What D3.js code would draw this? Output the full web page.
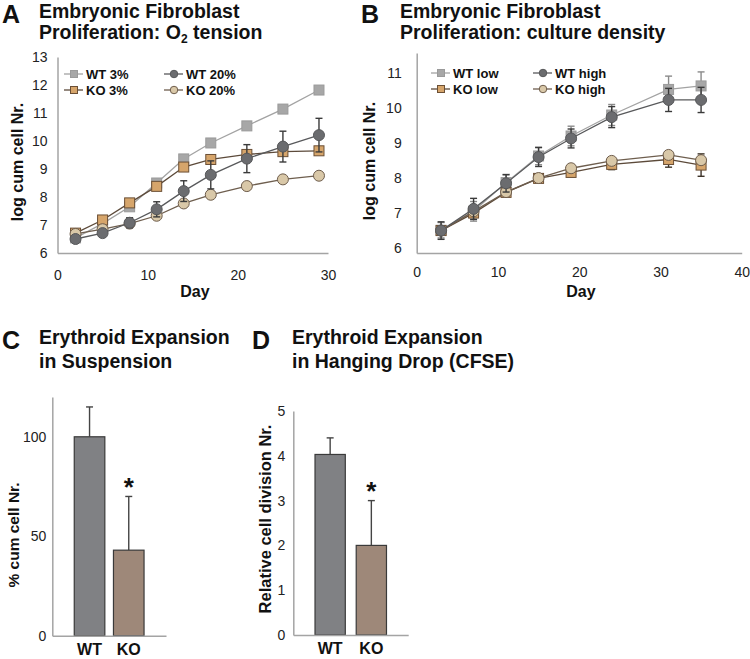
<!DOCTYPE html>
<html><head><meta charset="utf-8">
<script src="https://cdn.jsdelivr.net/npm/d3@7"></script>
<style>body{margin:0;background:#fff} text{font-family:"Liberation Sans",Arial,Helvetica,sans-serif}</style>
</head><body><svg id="c" width="750" height="659"></svg>
<script>
// ---------- DATA ----------
// Panel A: O2 tension
const daysA = [2, 5, 8, 11, 14, 17, 21, 25, 29];
const wt3   = [6.54, 7.05, 7.65, 8.50, 9.36, 9.93, 10.54, 11.14, 11.82];
const wt3Err = [0.05, 0.05, 0.05, 0.05, 0.05, 0.08, 0.05, 0.05, 0.05];
const ko3   = [6.71, 7.18, 7.79, 8.38, 9.07, 9.34, 9.52, 9.62, 9.65];
const ko3Err = [0.05, 0.08, 0.05, 0.05, 0.08, 0.08, 0.1, 0.1, 0.12];
const wt20  = [6.50, 6.71, 7.08, 7.56, 8.21, 8.79, 9.37, 9.80, 10.21];
const wt20Err = [0.05, 0.1, 0.18, 0.27, 0.37, 0.5, 0.5, 0.55, 0.6];
const ko20  = [6.68, 6.85, 7.05, 7.33, 7.77, 8.08, 8.39, 8.63, 8.76];
const ko20Err = [0.05, 0.05, 0.05, 0.08, 0.05, 0.05, 0.05, 0.05, 0.07];
const xTicksA = [0, 10, 20, 30];
const yTicksA = [6, 7, 8, 9, 10, 11, 12, 13];

// Panel B: culture density
const daysB = [3, 7, 11, 15, 19, 24, 31, 35];
const wtLow  = [6.51, 7.05, 7.87, 8.63, 9.20, 9.80, 10.53, 10.63];
const wtLowErr = [0.22, 0.28, 0.22, 0.25, 0.28, 0.3, 0.38, 0.4];
const koLow  = [6.50, 7.00, 7.59, 7.99, 8.16, 8.39, 8.53, 8.37];
const koLowErr = [0.12, 0.12, 0.06, 0.06, 0.1, 0.15, 0.22, 0.32];
const wtHigh = [6.50, 7.12, 7.85, 8.60, 9.13, 9.74, 10.23, 10.23];
const wtHighErr = [0.25, 0.3, 0.25, 0.27, 0.27, 0.3, 0.33, 0.36];
const koHigh = [6.50, 7.05, 7.60, 8.00, 8.28, 8.49, 8.66, 8.51];
const koHighErr = [0.08, 0.08, 0.05, 0.05, 0.08, 0.08, 0.1, 0.1];
const xTicksB = [0, 10, 20, 30, 40];
const yTicksB = [6, 7, 8, 9, 10, 11];

// Panels C & D
const barCats = ["WT", "KO"];
const suspVals = [100, 43];
const suspErr  = [15, 27];
const yTicksC = [0, 50, 100];
const hangVals = [4.03, 2.0];
const hangErr  = [0.37, 1.0];
const yTicksD = [0, 1, 2, 3, 4, 5];

// ---------- STYLES ----------
const stLight = {fill:"#a7a7a7", stroke:"#9a9a9a", line:"#a3a3a3", err:"#8a8a8a", shape:"square"};
const stTan   = {fill:"#d6a56b", stroke:"#6b4f35", line:"#5c4a3a", err:"#3d3328", shape:"square"};
const stDark  = {fill:"#6b6c6f", stroke:"#57585a", line:"#58595b", err:"#3a3a3a", shape:"circle"};
const stBeige = {fill:"#d9c8a8", stroke:"#6e5d4c", line:"#6e5e4e", err:"#3d3328", shape:"circle"};

const svg = d3.select("#c");
const FONT = '"Liberation Sans",Arial,Helvetica,sans-serif';
const AXC = "#a4a4a4";

function styleAxis(sel, size) {
  sel.select(".domain").attr("stroke", AXC).attr("stroke-width", 1.5);
  sel.selectAll("text").attr("font-size", size).attr("fill", "#222").attr("font-family", FONT);
}

function marker(g, shape, cx, cy, sz, st) {
  if (shape === "square") {
    g.append("rect").attr("x", cx - sz/2).attr("y", cy - sz/2).attr("width", sz).attr("height", sz)
      .attr("fill", st.fill).attr("stroke", st.stroke).attr("stroke-width", 1);
  } else {
    g.append("circle").attr("cx", cx).attr("cy", cy).attr("r", sz/2)
      .attr("fill", st.fill).attr("stroke", st.stroke).attr("stroke-width", 1);
  }
}

function linePanel(o) {
  const x = d3.scaleLinear().domain(o.xDomain).range(o.xRange);
  const y = d3.scaleLinear().domain(o.yDomain).range(o.yRange);
  const g = svg.append("g");
  g.append("g").attr("transform", `translate(0,${o.yRange[0]})`)
    .call(d3.axisBottom(x).tickValues(o.xTicks).tickSize(0).tickSizeOuter(0).tickPadding(o.xPad).tickFormat(d3.format("d")))
    .call(s => styleAxis(s, 14));
  g.append("g").attr("transform", `translate(${o.xRange[0]},0)`)
    .call(d3.axisLeft(y).tickValues(o.yTicks).tickSize(0).tickSizeOuter(0).tickPadding(o.yPad).tickFormat(d3.format("d")))
    .call(s => styleAxis(s, 14));
  const line = d3.line().x(d => x(d[0])).y(d => y(d[1]));
  o.series.forEach(s => {
    const pts = o.days.map((d, i) => [d, s.vals[i], s.err[i]]);
    g.append("path").attr("d", line(pts)).attr("fill", "none").attr("stroke", s.st.line).attr("stroke-width", 1.3);
    pts.forEach(p => {
      const cx = x(p[0]), y1 = y(p[1] - p[2]), y2 = y(p[1] + p[2]);
      g.append("line").attr("x1", cx).attr("x2", cx).attr("y1", y1).attr("y2", y2).attr("stroke", s.st.err).attr("stroke-width", 1.4);
      [y1, y2].forEach(yy => g.append("line").attr("x1", cx - 3.5).attr("x2", cx + 3.5).attr("y1", yy).attr("y2", yy).attr("stroke", s.st.err).attr("stroke-width", 1.4));
    });
    pts.forEach(p => marker(g, s.st.shape, x(p[0]), y(p[1]), s.st.shape === "square" ? 10 : 11, s.st));
  });
  // legend
  o.legend.forEach(l => {
    const st = l.st;
    g.append("line").attr("x1", l.x).attr("x2", l.x + 19).attr("y1", l.y).attr("y2", l.y).attr("stroke", st.line).attr("stroke-width", 1.3);
    marker(g, st.shape, l.x + 10, l.y, st.shape === "square" ? 7 : 7.5, st);
    g.append("text").attr("x", l.x + 22).attr("y", l.y + 4.6).attr("font-size", 13).attr("font-weight", "bold").attr("fill", "#111").text(l.label);
  });
  // axis titles
  g.append("text").attr("x", o.dayX).attr("y", 297).attr("text-anchor", "middle").attr("font-size", 16).attr("font-weight", "bold").attr("fill", "#111").text("Day");
  g.append("text").attr("transform", `translate(${o.ylabX},${o.ylabY}) rotate(-90)`).attr("text-anchor", "middle")
    .attr("font-size", 16).attr("font-weight", "bold").attr("fill", "#111").text("log cum cell Nr.");
}

function barPanel(o) {
  const x = d3.scaleBand().domain(barCats).range(o.xRange).paddingInner(o.pIn).paddingOuter(o.pOut);
  const y = d3.scaleLinear().domain(o.yDomain).range(o.yRange);
  const g = svg.append("g");
  const cols = ["#808184", "#9e8879"];
  barCats.forEach((c, i) => {
    const top = y(o.vals[i] + o.err[i]);
    const cx = x(c) + x.bandwidth()/2;
    g.append("line").attr("x1", cx).attr("x2", cx).attr("y1", top).attr("y2", y(o.vals[i])).attr("stroke", "#444").attr("stroke-width", 1.4);
    g.append("line").attr("x1", cx - 3.5).attr("x2", cx + 3.5).attr("y1", top).attr("y2", top).attr("stroke", "#444").attr("stroke-width", 1.4);
    g.append("rect").attr("x", x(c)).attr("y", y(o.vals[i])).attr("width", x.bandwidth()).attr("height", y(0) - y(o.vals[i]))
      .attr("fill", cols[i]).attr("stroke", "#3a3a3a").attr("stroke-width", 1.2);
  });
  g.append("g").attr("transform", `translate(0,${o.yRange[0]})`)
    .call(d3.axisBottom(x).tickSize(0).tickSizeOuter(0).tickPadding(8))
    .call(s => { styleAxis(s, 16); s.selectAll("text").attr("font-weight", "bold").attr("fill", "#111"); });
  g.append("g").attr("transform", `translate(${o.xRange[0]},0)`)
    .call(d3.axisLeft(y).tickValues(o.yTicks).tickSize(0).tickSizeOuter(0).tickPadding(o.yPad).tickFormat(d3.format("d")))
    .call(s => styleAxis(s, 14));
  // asterisk above KO
  const kx = x("KO") + x.bandwidth()/2;
  g.append("text").attr("x", kx).attr("y", y(o.vals[1] + o.err[1]) - 3).attr("text-anchor", "middle")
    .attr("font-size", 26).attr("font-weight", "bold").attr("dy", "0.55em").attr("fill", "#111").attr("transform", "translate(0,-12)").text("*");
  g.append("text").attr("transform", `translate(${o.ylabX},${o.ylabY}) rotate(-90)`).attr("text-anchor", "middle")
    .attr("font-size", o.ylabSize).attr("font-weight", "bold").attr("fill", "#111").text(o.ylab);
}

function title(letter, lx, tx, y1, y2, l1, l2) {
  svg.append("text").attr("x", lx).attr("y", y1 + 5).attr("font-size", 25).attr("font-weight", "bold").attr("fill", "#111").text(letter);
  svg.append("text").attr("x", tx).attr("y", y1).attr("font-size", 19.5).attr("font-weight", "bold").attr("fill", "#111").text(l1);
  const t = svg.append("text").attr("x", tx).attr("y", y2).attr("font-size", 19.5).attr("font-weight", "bold").attr("fill", "#111");
  if (Array.isArray(l2)) {
    t.append("tspan").text(l2[0]);
    t.append("tspan").attr("font-size", 12).attr("dy", 4).text(l2[1]);
    t.append("tspan").attr("dy", -4).text(l2[2]);
  } else t.text(l2);
}

// ---------- PANELS ----------
title("A", 2, 39, 18, 39, "Embryonic Fibroblast", ["Proliferation: O", "2", " tension"]);
title("B", 361, 400, 18, 39, "Embryonic Fibroblast", "Proliferation: culture density");
title("C", 2, 39, 344, 368, "Erythroid Expansion", "in Suspension");
title("D", 252, 292, 344, 368, "Erythroid Expansion", "in Hanging Drop (CFSE)");

linePanel({
  days: daysA, xDomain: [0, 30], xRange: [57.5, 328], yDomain: [6, 13], yRange: [253, 57],
  xTicks: xTicksA, yTicks: yTicksA, xPad: 17, yPad: 10, dayX: 195, ylabX: 23, ylabY: 162,
  series: [
    {vals: wt3, err: wt3Err, st: stLight},
    {vals: ko3, err: ko3Err, st: stTan},
    {vals: ko20, err: ko20Err, st: stBeige},
    {vals: wt20, err: wt20Err, st: stDark}
  ],
  legend: [
    {st: stLight, label: "WT 3%", x: 64, y: 74},
    {st: stTan, label: "KO 3%", x: 64, y: 90},
    {st: stDark, label: "WT 20%", x: 164, y: 74},
    {st: stBeige, label: "KO 20%", x: 164, y: 90}
  ]
});

linePanel({
  days: daysB, xDomain: [0, 40], xRange: [416.7, 741.7], yDomain: [5.86, 11.57], yRange: [253, 53],
  xTicks: xTicksB, yTicks: yTicksB, xPad: 14, yPad: 15, dayX: 581, ylabX: 375, ylabY: 161,
  series: [
    {vals: wtLow, err: wtLowErr, st: stLight},
    {vals: koLow, err: koLowErr, st: stTan},
    {vals: koHigh, err: koHighErr, st: stBeige},
    {vals: wtHigh, err: wtHighErr, st: stDark}
  ],
  legend: [
    {st: stLight, label: "WT low", x: 431, y: 73},
    {st: stTan, label: "KO low", x: 431, y: 89},
    {st: stDark, label: "WT high", x: 533, y: 73},
    {st: stBeige, label: "KO high", x: 533, y: 89}
  ]
});

barPanel({
  vals: suspVals, err: suspErr, yDomain: [0, 120], yRange: [635.7, 397], yTicks: yTicksC, yPad: 6,
  xRange: [52.3, 166], pIn: 0.22, pOut: 0.56, ylab: "% cum cell Nr.", ylabX: 19, ylabY: 535, ylabSize: 15.5
});

barPanel({
  vals: hangVals, err: hangErr, yDomain: [0, 5], yRange: [635, 411], yTicks: yTicksD, yPad: 8,
  xRange: [293.3, 408.2], pIn: 0.265, pOut: 0.527, ylab: "Relative cell division Nr.", ylabX: 271, ylabY: 519, ylabSize: 16.5
});
</script></body></html>
